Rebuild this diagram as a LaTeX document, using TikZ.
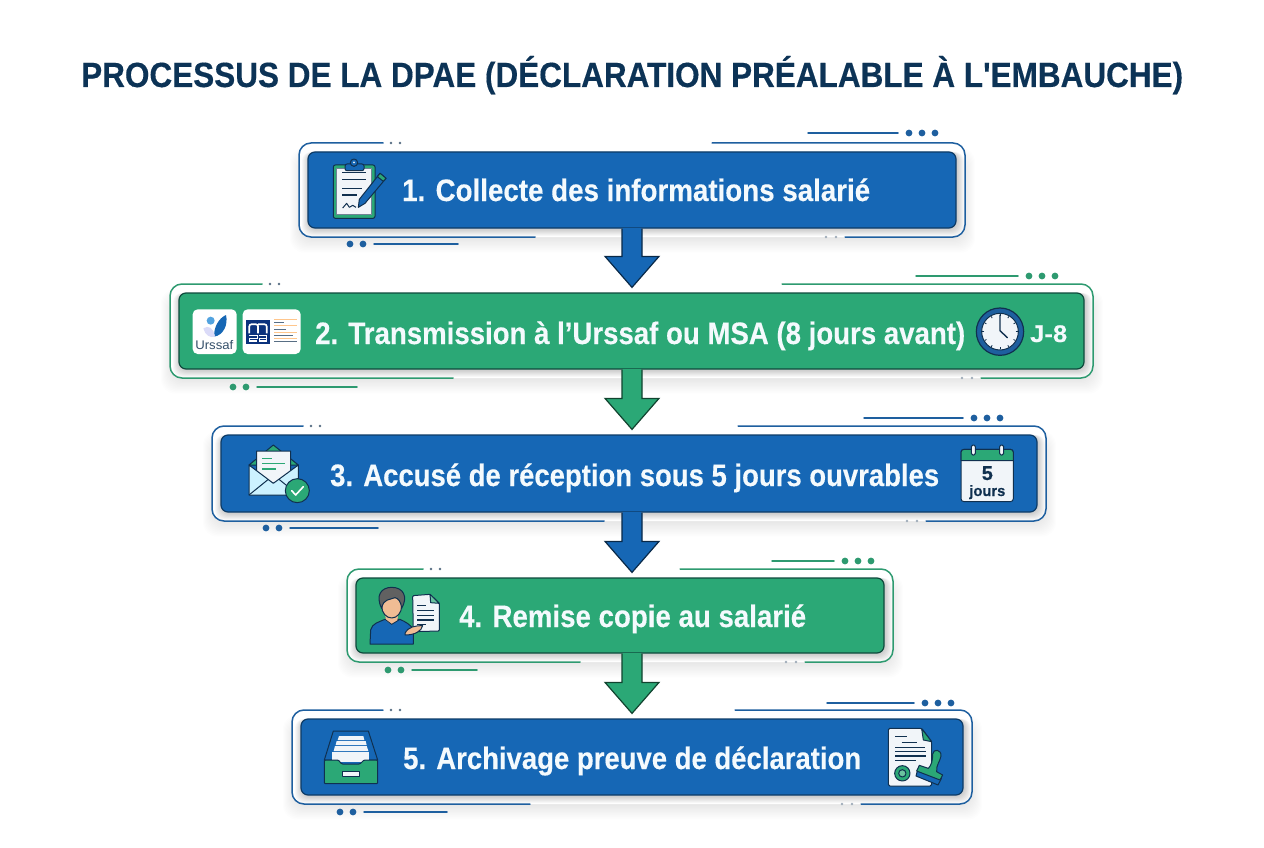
\documentclass[tikz,border=0pt]{standalone}
\usepackage{graphicx}
\usepackage{fontspec}
\usetikzlibrary{calc}
\setmainfont[BoldFeatures={FakeBold=0.35}]{Liberation Sans}
\definecolor{bluefill}{HTML}{1667B5}
\definecolor{blueedge}{HTML}{0D3B66}
\definecolor{blueline}{HTML}{1E5F9F}
\definecolor{greenfill}{HTML}{2BA876}
\definecolor{greenedge}{HTML}{0E4A3C}
\definecolor{greenline}{HTML}{2E9A70}
\definecolor{titlecol}{HTML}{0C3356}
\definecolor{labelcol}{HTML}{F4FAFD}
\definecolor{iconedge}{HTML}{10304F}
\definecolor{paper}{HTML}{F1F5F9}
\definecolor{skin}{HTML}{F0BC94}
\colorlet{acc}{bluefill}\colorlet{accedge}{blueedge}\colorlet{accline}{blueline}
\newsavebox{\fitbox}
\newcommand{\fitw}[2]{\sbox{\fitbox}{#2}\pgfmathsetmacro{\fitscale}{#1/\wd\fitbox}\scalebox{\fitscale}[1]{\usebox{\fitbox}}}
\tikzset{
  x=1pt,y=-1pt,
  zoomed/.style 2 args={shift={(#1,#2)},x=0.33333pt,y=-0.33333pt},
  mainbox/.style={draw=accedge,fill=acc,line width=1.2pt,rounded corners=7pt,inner sep=0pt},
  frameline/.style={draw=accline,line width=1.5pt,line cap=round,line join=round},
  flowhead/.style={line width=1.2pt,line join=miter},
  steplabel/.style={anchor=base west,inner sep=0pt,text=labelcol,font=\fontsize{31}{31}\selectfont\bfseries},
  ic/.style={draw=iconedge,line width=1pt,line join=round},
}
% #1 name #2 L #3 T #4 R #5 B #6 top-left end #7 bottom-left end #8 top-right start #9 bottom-right start
\newcommand{\panel}[9]{%
  \foreach \s in {1,...,12}{\fill[black,opacity=0.009,rounded corners=14pt] (#2-6-\s,#3+8-\s) rectangle (#4+7+\s,#5+9+1.3*\s);}
  \fill[white,rounded corners=12pt] (#2-9,#3-9) rectangle (#4+9,#5+9);
  \foreach \s in {1,...,7}{\fill[black,opacity=0.026,rounded corners=9pt] (#2-\s+1,#3) rectangle (#4+\s+1,#5+\s+1);}
  \path[frameline,rounded corners=12pt] (#6,#3-9) -- (#2-9,#3-9) -- (#2-9,#5+9) -- (#7,#5+9);
  \path[frameline,rounded corners=12pt] (#8,#3-9) -- (#4+9,#3-9) -- (#4+9,#5+9) -- (#9,#5+9);
  \fill[iconedge!70] (#6+8,#3-9) circle[radius=1.4] (#6+17,#3-9) circle[radius=1.4];
  \fill[iconedge!40] (#9-19,#5+9) circle[radius=1.4] (#9-9,#5+9) circle[radius=1.4];
  \node[mainbox,minimum width=#4-#2,minimum height=#5-#3] (#1) at ({(#2+#4)/2},{(#3+#5)/2}) {};
}
% #1 lower dot x #2 lower line end #3 upper line start #4 upper line end #5 lower y #6 upper y
\newcommand{\trims}[6]{%
  \fill[accline] (#1,#5) circle[radius=3.4] (#1+13,#5) circle[radius=3.4];
  \path[frameline,line width=1.5pt] (#1+24,#5) -- (#2,#5);
  \path[frameline,line width=1.5pt] (#3,#6) -- (#4,#6);
  \fill[accline] (#4+11,#6) circle[radius=3.4] (#4+24,#6) circle[radius=3.4] (#4+37,#6) circle[radius=3.4];
}
\newcommand{\flowarrow}[3]{%
  \path[flowhead,fill=#3,draw=#3!40!black] let \p1=(#1.south),\p2=(#2.north),\p3=(axis) in
   (\x3-10pt,\y1) -- (\x3-10pt,\y2+36pt) -- (\x3-27pt,\y2+36pt) -- (\x3,\y2+5pt) -- (\x3+27pt,\y2+36pt) -- (\x3+10pt,\y2+36pt) -- (\x3+10pt,\y1);
  \fill[#3] let \p1=(#1.south),\p3=(axis) in (\x3-9.4pt,\y1+0.6pt) rectangle (\x3+9.4pt,\y1-2pt);
}
\begin{document}
\begin{tikzpicture}
\useasboundingbox (0,0) rectangle (1264,848);
\fill[white] (0,0) rectangle (1264,848);
\coordinate (axis) at (632,0);
\node[anchor=base west,inner sep=0pt,text=titlecol,font=\fontsize{35}{35}\selectfont\bfseries] (title) at (81,87) {\fitw{1102pt}{PROCESSUS DE LA DPAE (DÉCLARATION PRÉALABLE À L\textquotesingle EMBAUCHE)}};

% panels
\colorlet{acc}{bluefill}\colorlet{accedge}{blueedge}\colorlet{accline}{blueline}
\panel{s1}{308}{152}{956}{228}{383}{535}{712}{845}
\trims{350}{458}{808}{898}{244}{133}
\colorlet{acc}{greenfill}\colorlet{accedge}{greenedge}\colorlet{accline}{greenline}
\panel{s2}{179}{293}{1084}{369}{262}{453}{782}{981}
\trims{233}{357}{916}{1018}{387}{276}
\colorlet{acc}{bluefill}\colorlet{accedge}{blueedge}\colorlet{accline}{blueline}
\panel{s3}{221}{435}{1037}{512}{303}{604}{738}{926}
\trims{266}{378}{864}{963}{528}{418}
\colorlet{acc}{greenfill}\colorlet{accedge}{greenedge}\colorlet{accline}{greenline}
\panel{s4}{356}{578}{884}{653}{423}{580}{680}{805}
\trims{388}{477}{772}{834}{670}{561}
\colorlet{acc}{bluefill}\colorlet{accedge}{blueedge}\colorlet{accline}{blueline}
\panel{s5}{301}{719}{963}{795}{383}{530}{735}{861}
\trims{340}{447}{827}{914}{812}{703}

% connectors
\flowarrow{s1}{s2}{bluefill}
\flowarrow{s2}{s3}{greenfill}
\flowarrow{s3}{s4}{bluefill}
\flowarrow{s4}{s5}{greenfill}

% labels
\node[steplabel] (t1) at (402,201) {\fitw{468pt}{1. Collecte des informations salarié}};
\node[steplabel] (t2) at (315,344) {\fitw{650pt}{2. Transmission à l’Urssaf ou MSA (8 jours avant)}};
\node[steplabel] (t3) at (330,486) {\fitw{609pt}{3. Accusé de réception sous 5 jours ouvrables}};
\node[steplabel] (t4) at (459,627) {\fitw{347pt}{4. Remise copie au salarié}};
\node[steplabel] (t5) at (403,769) {\fitw{458pt}{5. Archivage preuve de déclaration}};
\node[anchor=base west,inner sep=0pt,text=labelcol,font=\fontsize{24}{24}\selectfont\bfseries] (j8) at (1030,342) {\fitw{37pt}{J-8}};

% clipboard
\begin{scope}[zoomed={290}{120}]
\path[ic,fill=greenfill,rounded corners=2pt] (130,135) rectangle (255,295);
\path[ic,draw=iconedge!60,fill=paper] (140,145) rectangle (245,285);
\path[ic,fill=bluefill,rounded corners=2pt] (165,132) rectangle (222,152);
\path[ic,fill=bluefill] (192,128) circle[radius=11];
\fill[paper] (192,127) circle[radius=3];
\foreach \ya/\xb in {158/228,178/228,205/215,225/200}{\draw[iconedge,line width=1.2pt] (157,\ya) -- (\xb,\ya);}
\draw[iconedge,line width=1pt,line join=round] (158,264) -- (170,250) -- (178,262) -- (188,256) -- (198,262);
\path[ic,fill=bluefill] (270,160) -- (288,175) -- (225,250) -- (205,262) -- (208,238) -- cycle;
\path[ic,fill=greenfill] (270,160) -- (278,166) -- (288,175) -- (280,184) -- (262,170) -- cycle;
\end{scope}

% Urssaf and MSA cards
\begin{scope}[zoomed={160}{270}]
\fill[white,rounded corners=5pt] (98,118) rectangle (230,252);
\fill[white,rounded corners=5pt] (248,118) rectangle (422,252);
\fill[bluefill] (198,135) .. controls (175,145) and (160,175) .. (163,200) .. controls (190,195) and (205,165) .. (198,135) -- cycle;
\fill[black!20!blue!14] (130,175) .. controls (145,165) and (160,172) .. (165,200) .. controls (150,205) and (135,195) .. (130,175) -- cycle;
\fill[cyan!70!blue!70] (152,152) circle[radius=12];
\node[anchor=base,inner sep=0pt,text=iconedge!85,font=\fontsize{12.5}{12.5}\selectfont] (urssaf) at (163,238) {\fitw{38pt}{Urssaf}};
\fill[blueedge!85!blue] (258,150) rectangle (330,222);
\draw[white,line width=1.7pt,rounded corners=2pt] (268,190) -- (268,163) -- (294,163) -- (294,190) (294,163) -- (320,163) -- (320,190);
\draw[white,line width=1.5pt] (268,197) -- (292,197) -- (292,205) -- (268,205) -- (268,213) -- (292,213) (298,197) -- (320,197) -- (320,213) -- (298,213) -- (298,205) -- (320,205);
\foreach \ya/\xb in {158/372,177/378,195/398,213/410}{\draw[iconedge!70,line width=0.8pt] (343,\ya) -- (\xb,\ya);}
\foreach \ya in {148,167,186,204}{\draw[orange!45!white,line width=0.4pt] (342,\ya) -- (410,\ya);}
\end{scope}

% clock
\begin{scope}[zoomed={900}{270}]
\path[ic,fill=blueline,line width=1.2pt] (300,185) circle[radius=71];
\path[ic,fill=paper] (300,185) circle[radius=55];
\foreach \a in {0,30,...,330}{\draw[iconedge,line width=0.8pt] (300,185) ++(\a:47) -- ++(\a:6);}
\draw[iconedge,line width=1.4pt,line cap=round,line join=round] (300,135) -- (300,182) -- (322,203);
\end{scope}

% envelope
\begin{scope}[zoomed={205}{415}]
\path[ic,fill=greenfill] (132,150) -- (205,90) -- (280,150) -- cycle;
\path[ic,fill=paper] (155,108) -- (257,108) -- (257,180) -- (205,205) -- (155,180) -- cycle;
\draw[greenfill,line width=1.1pt] (172,130) -- (200,130) (172,146) -- (240,146) (172,162) -- (212,162);
\path[ic,fill=blue!25!cyan!20!white] (132,150) -- (205,205) -- (280,150) -- (280,240) -- (132,240) -- cycle;
\draw[iconedge,line width=1pt] (132,240) -- (190,193) (280,240) -- (222,193);
\path[ic,fill=greenfill] (277,227) circle[radius=36];
\draw[white,line width=1.6pt,line cap=round,line join=round] (260,227) -- (272,240) -- (295,215);
\end{scope}

% calendar
\begin{scope}[zoomed={900}{410}]
\path[ic,fill=paper,rounded corners=3pt] (183,118) rectangle (340,275);
\path[ic,fill=greenfill] (183,152) [rounded corners=3pt] -- (183,118) -- (340,118) [sharp corners] -- (340,152) -- cycle;
\path[ic,fill=paper,rounded corners=1.5pt] (214,105) rectangle (226,135);
\path[ic,fill=paper,rounded corners=1.5pt] (299,105) rectangle (311,135);
\node[anchor=base,inner sep=0pt,text=iconedge,font=\fontsize{20}{20}\selectfont\bfseries] (cal5) at (262,210) {5};
\node[anchor=base,inner sep=0pt,text=iconedge,font=\fontsize{15}{15}\selectfont\bfseries] (caljours) at (262,258) {\fitw{36pt}{jours}};
\end{scope}

% person with document
\begin{scope}[zoomed={340}{555}]
\path[ic,fill=bluefill] (90,267) -- (92,225) .. controls (95,205) and (120,200) .. (135,193) -- (180,193) .. controls (195,200) and (215,210) .. (220,225) -- (220,267) -- cycle;
\fill[skin] (135,175) -- (175,175) -- (172,197) -- (155,208) -- (138,197) -- cycle;
\draw[iconedge,line width=0.8pt] (135,193) -- (155,208) -- (180,193);
\path[ic,fill=skin] (155,153) ellipse[x radius=30,y radius=36];
\path[ic,fill=black!62] (125,160) .. controls (105,120) and (125,97) .. (155,97) .. controls (190,97) and (205,125) .. (185,160) .. controls (183,140) and (175,130) .. (165,128) .. controls (150,135) and (130,130) .. (125,160) -- cycle;
\path[ic,fill=paper,rounded corners=1pt] (218,122) -- (270,118) -- (298,145) -- (298,228) -- (220,230) -- cycle;
\path[ic,fill=greenfill!70!white] (270,118) -- (298,145) -- (272,143) -- cycle;
\draw[iconedge,line width=1.2pt] (232,152) -- (257,152) (232,167) -- (282,167) (232,181) -- (282,181) (232,195) -- (282,195) (232,209) -- (258,209);
\path[ic,fill=skin] (195,235) .. controls (205,215) and (225,212) .. (248,212) .. controls (245,228) and (225,240) .. (195,240) -- cycle;
\end{scope}

% drawer
\begin{scope}[zoomed={285}{695}]
\path[ic,fill=bluefill] (145,108) -- (250,108) -- (278,195) -- (118,195) -- cycle;
\fill[paper] (162,123) -- (235,123) -- (238,135) -- (158,135) -- cycle;
\fill[paper] (155,138) -- (242,138) -- (245,150) -- (152,150) -- cycle;
\fill[paper] (150,153) -- (245,153) -- (250,168) -- (146,168) -- cycle;
\fill[paper] (142,172) -- (253,172) -- (253,200) -- (142,200) -- cycle;
\path[ic,fill=greenfill,rounded corners=1pt] (118,195) -- (160,195) -- (170,207) -- (225,207) -- (237,195) -- (278,195) -- (278,266) -- (118,266) -- cycle;
\path[ic,fill=paper] (172,230) rectangle (222,245);
\end{scope}

% stamped document
\begin{scope}[zoomed={780}{690}]
\path[ic,fill=paper,rounded corners=1.5pt] (325,115) -- (425,115) -- (455,155) -- (455,288) -- (325,288) -- cycle;
\path[ic,fill=greenfill] (425,116) -- (455,155) -- (430,150) -- cycle;
\draw[iconedge,line width=1.1pt] (345,140) -- (380,140) (365,157) -- (412,157) (345,172) -- (435,172) (345,185) -- (437,185) (345,198) -- (437,198) (345,212) -- (408,212);
\path[ic,fill=greenfill] (367,250) circle[radius=23];
\path[ic,fill=greenfill!70!white] (367,250) circle[radius=11];
\path[ic,fill=bluefill] (412,243) -- (484,266) -- (474,285) -- (408,258) -- cycle;
\path[ic,fill=greenfill] (458,192) .. controls (460,175) and (485,178) .. (483,198) .. controls (480,215) and (468,225) .. (470,245) -- (488,255) -- (480,270) -- (410,243) -- (418,226) -- (445,235) .. controls (455,225) and (458,210) .. (458,192) -- cycle;
\end{scope}
\end{tikzpicture}
\end{document}
